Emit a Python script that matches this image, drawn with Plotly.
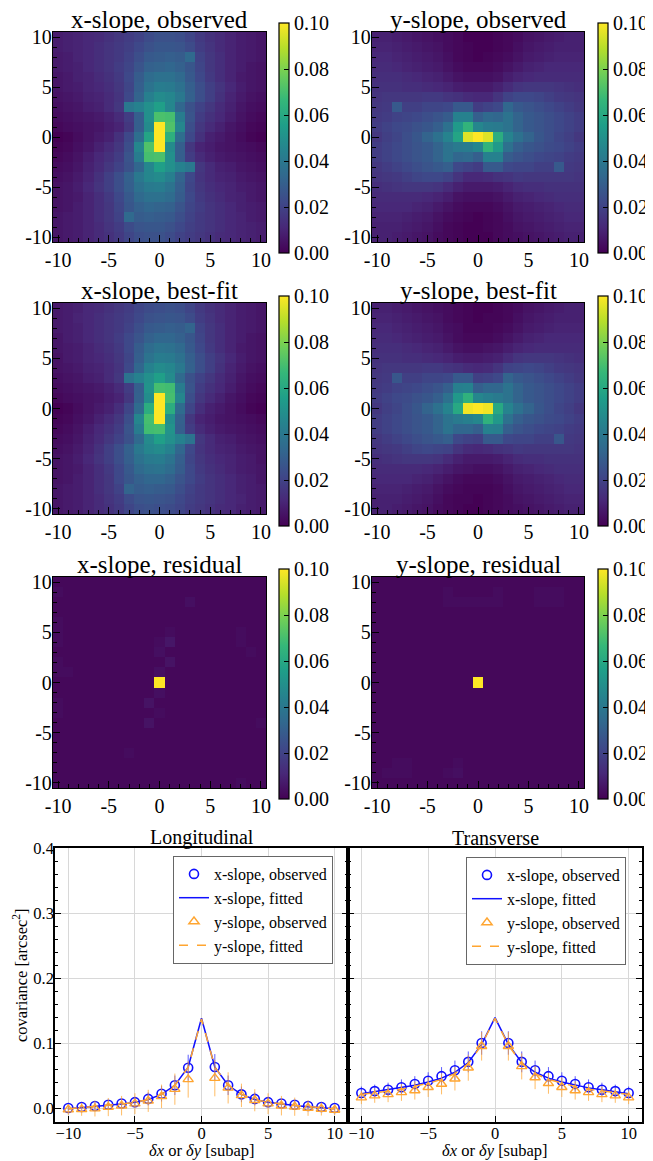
import plotly.graph_objects as go

# the page body has an 8px default margin: the figure is sized/positioned so that
# reference pixel coordinates (in the 653x1161 window) map directly.
OFF = 8
W, H = 653 - OFF, 1161 - OFF
def fx(px): return (px - OFF) / W
def fy(py): return 1 - (py - OFF) / H

FONT = "Liberation Serif"

# ---------------- data ----------------
LAGS = list(range(-10, 11))                 # delta x (columns)
ROW_LAGS = list(range(10, -11, -1))         # delta y (rows, top -> bottom)
CB_TICKS = [0.0, 0.02, 0.04, 0.06, 0.08, 0.10]
HM_TICKS = [-10, -5, 0, 5, 10]
HM_TICKTEXT = ["-10", "-5", "0", "5", "10"]

# covariance maps in units of 1e-3 arcsec^2 (rows: dy = 10 ... -10, cols: dx = -10 ... 10)
X_OBS = [
    [8, 9, 10, 11, 12, 14, 16, 18, 20, 23, 25, 25, 24, 21, 17, 14, 12, 10, 8, 7, 6],
    [8, 9, 10, 11, 13, 15, 17, 19, 22, 25, 27, 27, 26, 23, 18, 15, 12, 10, 8, 7, 6],
    [7, 8, 10, 11, 13, 15, 17, 20, 24, 28, 29, 30, 29, 34, 20, 16, 13, 10, 8, 7, 6],
    [7, 8, 9, 11, 13, 15, 18, 21, 26, 31, 32, 33, 31, 27, 21, 16, 13, 10, 8, 6, 5],
    [6, 7, 9, 10, 12, 14, 17, 22, 29, 35, 37, 37, 34, 28, 22, 17, 13, 10, 7, 6, 5],
    [6, 7, 8, 10, 11, 13, 16, 21, 30, 38, 42, 41, 37, 30, 24, 19, 15, 11, 8, 6, 5],
    [5, 6, 7, 9, 10, 12, 15, 22, 32, 43, 48, 46, 40, 31, 24, 19, 14, 10, 7, 5, 4],
    [4, 5, 6, 8, 9, 12, 16, 40, 44, 50, 56, 46, 33, 25, 20, 16, 12, 9, 6, 4, 3],
    [3, 4, 5, 6, 7, 9, 12, 18, 30, 50, 71, 70, 42, 26, 18, 14, 11, 8, 5, 3, 2],
    [2, 3, 4, 5, 6, 8, 10, 16, 30, 48, 100, 72, 46, 24, 16, 12, 9, 6, 4, 2, 1],
    [0, 1, 3, 5, 7, 9, 14, 22, 36, 58, 140, 63, 36, 22, 14, 9, 7, 5, 3, 1, 0],
    [1, 2, 4, 6, 9, 12, 16, 24, 46, 72, 100, 48, 30, 16, 10, 8, 6, 5, 4, 3, 2],
    [2, 3, 5, 8, 11, 14, 18, 26, 42, 70, 71, 50, 30, 18, 12, 9, 7, 6, 5, 4, 3],
    [3, 4, 6, 9, 12, 16, 20, 25, 33, 46, 56, 50, 44, 40, 16, 12, 9, 8, 6, 5, 4],
    [4, 5, 7, 10, 14, 19, 24, 31, 40, 46, 48, 43, 32, 22, 15, 12, 10, 9, 7, 6, 5],
    [5, 6, 8, 11, 15, 19, 24, 30, 37, 41, 42, 38, 30, 21, 16, 13, 11, 10, 8, 7, 6],
    [5, 6, 7, 10, 13, 17, 22, 28, 34, 37, 37, 35, 29, 22, 17, 14, 12, 10, 9, 7, 6],
    [5, 6, 8, 10, 13, 16, 21, 27, 31, 33, 32, 31, 26, 21, 18, 15, 13, 11, 9, 8, 7],
    [6, 7, 8, 10, 13, 16, 20, 34, 29, 30, 29, 28, 24, 20, 17, 15, 13, 11, 10, 8, 7],
    [6, 7, 8, 10, 12, 15, 18, 23, 26, 27, 27, 25, 22, 19, 17, 15, 13, 11, 10, 9, 8],
    [6, 7, 8, 10, 12, 14, 17, 21, 24, 25, 25, 23, 20, 18, 16, 14, 12, 11, 10, 9, 8],
]
X_FIT = [
    [7, 8, 9, 11, 12, 14, 16, 18, 21, 23, 24, 25, 24, 21, 17, 14, 12, 10, 8, 7, 6],
    [7, 8, 10, 11, 13, 15, 17, 19, 22, 25, 26, 27, 26, 23, 18, 15, 12, 10, 8, 7, 6],
    [7, 8, 9, 11, 13, 15, 17, 20, 24, 28, 29, 30, 29, 32, 20, 16, 13, 10, 8, 7, 6],
    [6, 8, 9, 11, 13, 15, 18, 22, 26, 31, 33, 33, 31, 27, 21, 16, 13, 10, 8, 6, 5],
    [6, 7, 8, 10, 12, 14, 17, 22, 29, 35, 38, 37, 34, 28, 22, 17, 13, 10, 7, 6, 5],
    [5, 7, 8, 10, 11, 13, 16, 21, 30, 38, 42, 41, 37, 30, 24, 19, 15, 11, 8, 6, 5],
    [5, 6, 7, 9, 10, 12, 15, 22, 33, 44, 48, 46, 40, 31, 24, 19, 14, 10, 7, 5, 4],
    [4, 5, 6, 8, 9, 12, 16, 38, 44, 50, 56, 48, 34, 25, 20, 16, 12, 9, 6, 4, 3],
    [3, 4, 5, 6, 7, 9, 12, 18, 30, 51, 70, 69, 42, 26, 18, 14, 11, 8, 5, 3, 2],
    [2, 3, 4, 5, 6, 8, 10, 16, 31, 49, 100, 70, 46, 24, 16, 12, 9, 6, 4, 2, 1],
    [0, 1, 3, 5, 7, 9, 13, 21, 35, 62, 138, 62, 35, 21, 13, 9, 7, 5, 3, 1, 0],
    [1, 2, 4, 6, 9, 12, 16, 24, 46, 70, 100, 49, 31, 16, 10, 8, 6, 5, 4, 3, 2],
    [2, 3, 5, 8, 11, 14, 18, 26, 42, 69, 70, 51, 30, 18, 12, 9, 7, 6, 5, 4, 3],
    [3, 4, 6, 9, 12, 16, 20, 25, 34, 48, 56, 50, 44, 38, 16, 12, 9, 8, 6, 5, 4],
    [4, 5, 7, 10, 14, 19, 24, 31, 40, 46, 48, 44, 33, 22, 15, 12, 10, 9, 7, 6, 5],
    [5, 6, 8, 11, 15, 19, 24, 30, 37, 41, 42, 38, 30, 21, 16, 13, 11, 10, 8, 7, 5],
    [5, 6, 7, 10, 13, 17, 22, 28, 34, 37, 38, 35, 29, 22, 17, 14, 12, 10, 8, 7, 6],
    [5, 6, 8, 10, 13, 16, 22, 27, 31, 33, 33, 31, 26, 22, 18, 15, 13, 11, 9, 8, 6],
    [6, 7, 8, 10, 13, 16, 20, 32, 29, 30, 29, 28, 24, 20, 17, 15, 13, 11, 9, 8, 7],
    [6, 7, 8, 10, 12, 15, 18, 23, 26, 27, 26, 25, 22, 19, 17, 15, 13, 11, 10, 8, 7],
    [6, 7, 8, 10, 12, 14, 17, 21, 24, 25, 24, 23, 21, 18, 16, 14, 12, 11, 9, 8, 7],
]
X_RES = [
    [2, 2, 2, 2, 2, 2, 2, 2, 2, 2, 2, 2, 2, 2, 2, 2, 2, 2, 2, 2, 2],
    [3, 2, 2, 2, 2, 2, 2, 2, 2, 2, 2, 2, 2, 2, 2, 2, 2, 2, 2, 2, 2],
    [2, 2, 2, 2, 2, 2, 2, 2, 2, 2, 2, 2, 2, 4, 2, 2, 2, 2, 2, 2, 2],
    [2, 2, 2, 2, 2, 2, 2, 2, 2, 2, 2, 2, 2, 2, 2, 2, 2, 2, 2, 2, 2],
    [3, 2, 2, 2, 2, 2, 2, 2, 2, 2, 2, 2, 2, 2, 2, 2, 2, 2, 2, 2, 2],
    [3, 2, 2, 2, 2, 2, 2, 2, 2, 2, 2, 3, 2, 2, 2, 2, 2, 2, 3, 2, 2],
    [3, 2, 2, 2, 2, 2, 2, 2, 2, 2, 3, 6, 2, 2, 2, 2, 2, 2, 3, 2, 2],
    [2, 2, 2, 2, 2, 2, 2, 2, 2, 2, 4, 2, 2, 2, 2, 2, 2, 2, 2, 3, 2],
    [3, 2, 2, 2, 2, 2, 2, 2, 2, 2, 2, 5, 2, 2, 2, 2, 2, 2, 2, 2, 2],
    [3, 3, 2, 2, 2, 2, 2, 2, 2, 2, 4, 2, 2, 2, 2, 2, 2, 2, 2, 2, 2],
    [2, 2, 2, 2, 2, 2, 2, 2, 2, 2, 130, 2, 2, 2, 2, 2, 2, 2, 2, 2, 2],
    [2, 2, 2, 2, 2, 2, 2, 2, 2, 2, 4, 2, 2, 2, 2, 2, 2, 2, 2, 2, 2],
    [3, 2, 2, 2, 2, 2, 2, 2, 2, 5, 2, 2, 2, 2, 2, 2, 2, 2, 2, 2, 2],
    [3, 2, 2, 2, 2, 2, 2, 2, 2, 2, 3, 2, 2, 2, 2, 2, 2, 2, 2, 2, 2],
    [2, 2, 2, 2, 2, 2, 2, 2, 2, 5, 2, 2, 2, 2, 2, 2, 2, 2, 2, 2, 3],
    [2, 2, 2, 2, 2, 2, 2, 2, 2, 2, 2, 2, 2, 2, 2, 2, 2, 2, 2, 2, 2],
    [2, 2, 2, 2, 2, 2, 2, 2, 2, 2, 2, 2, 2, 2, 2, 2, 2, 2, 2, 2, 2],
    [2, 2, 2, 2, 2, 2, 2, 3, 2, 2, 2, 2, 2, 2, 2, 2, 2, 2, 2, 2, 2],
    [2, 2, 2, 2, 2, 2, 2, 2, 2, 2, 2, 2, 2, 2, 2, 2, 2, 2, 2, 2, 2],
    [2, 2, 2, 2, 2, 2, 2, 2, 2, 2, 2, 2, 2, 2, 2, 2, 2, 2, 2, 2, 2],
    [2, 2, 2, 2, 2, 2, 2, 2, 2, 2, 2, 2, 2, 2, 2, 2, 2, 2, 3, 2, 2],
]
Y_OBS = [
    [9, 9, 8, 7, 6, 5, 4, 3, 2, 0, 0, 0, 1, 2, 3, 5, 6, 7, 8, 9, 9],
    [10, 10, 9, 8, 7, 6, 5, 3, 2, 1, 0, 0, 1, 2, 4, 6, 7, 8, 9, 9, 9],
    [11, 11, 10, 9, 8, 7, 6, 4, 2, 1, 0, 1, 2, 3, 5, 7, 8, 9, 10, 10, 10],
    [12, 12, 11, 10, 9, 8, 7, 5, 3, 2, 2, 2, 3, 5, 7, 9, 10, 11, 11, 11, 11],
    [13, 13, 13, 12, 11, 10, 9, 7, 5, 4, 4, 4, 5, 8, 10, 11, 12, 12, 12, 12, 12],
    [14, 14, 14, 13, 13, 12, 11, 10, 8, 7, 7, 7, 9, 12, 15, 16, 16, 16, 15, 14, 13],
    [15, 16, 16, 16, 16, 17, 17, 15, 14, 12, 11, 11, 15, 20, 22, 22, 21, 19, 17, 16, 15],
    [16, 17, 28, 19, 19, 21, 21, 22, 28, 28, 18, 20, 22, 33, 28, 26, 24, 22, 20, 18, 16],
    [17, 18, 20, 21, 22, 24, 26, 29, 44, 44, 30, 34, 33, 38, 32, 28, 26, 24, 22, 20, 18],
    [18, 20, 22, 23, 25, 27, 30, 37, 54, 65, 46, 42, 41, 38, 32, 28, 26, 24, 22, 20, 18],
    [16, 19, 21, 24, 27, 32, 37, 45, 58, 95, 140, 95, 62, 45, 37, 32, 27, 24, 21, 19, 16],
    [18, 20, 22, 24, 26, 28, 32, 38, 41, 42, 46, 65, 54, 37, 30, 27, 25, 23, 22, 20, 18],
    [18, 20, 22, 24, 26, 28, 32, 38, 33, 34, 30, 44, 44, 29, 26, 24, 22, 21, 20, 18, 17],
    [16, 18, 20, 22, 24, 26, 28, 30, 22, 20, 18, 28, 28, 22, 21, 21, 19, 19, 28, 17, 16],
    [15, 16, 17, 19, 21, 22, 22, 20, 15, 11, 11, 12, 14, 15, 17, 16, 16, 16, 16, 16, 15],
    [13, 14, 15, 16, 16, 16, 15, 12, 9, 7, 7, 7, 8, 10, 12, 13, 13, 14, 14, 14, 14],
    [12, 12, 12, 12, 12, 11, 10, 8, 5, 4, 4, 4, 5, 7, 9, 10, 11, 12, 13, 13, 13],
    [11, 11, 11, 11, 10, 9, 7, 5, 3, 2, 2, 2, 3, 5, 7, 8, 9, 10, 11, 12, 12],
    [10, 10, 10, 9, 8, 7, 5, 3, 2, 1, 0, 1, 2, 4, 6, 7, 8, 9, 10, 11, 11],
    [9, 9, 9, 8, 7, 6, 4, 2, 1, 0, 0, 1, 2, 3, 5, 6, 7, 8, 9, 10, 10],
    [9, 9, 8, 7, 6, 5, 3, 2, 1, 0, 0, 0, 2, 3, 4, 5, 6, 7, 8, 9, 9],
]
Y_FIT = [
    [9, 9, 8, 7, 6, 5, 4, 3, 2, 1, 0, 0, 1, 2, 3, 5, 6, 7, 8, 9, 9],
    [10, 10, 9, 8, 7, 6, 5, 3, 2, 1, 0, 1, 1, 2, 4, 6, 7, 8, 9, 9, 9],
    [11, 11, 10, 9, 8, 7, 6, 4, 3, 1, 1, 1, 2, 3, 5, 7, 8, 9, 10, 10, 10],
    [12, 12, 11, 10, 9, 8, 7, 5, 3, 2, 2, 2, 3, 5, 7, 9, 10, 11, 11, 11, 11],
    [13, 13, 13, 12, 11, 10, 9, 7, 5, 4, 4, 5, 6, 8, 10, 11, 12, 12, 12, 12, 12],
    [14, 14, 14, 13, 13, 12, 11, 10, 8, 7, 7, 8, 9, 12, 15, 16, 16, 16, 15, 14, 13],
    [15, 16, 16, 16, 16, 17, 17, 15, 14, 12, 11, 12, 15, 20, 21, 22, 21, 19, 17, 16, 15],
    [16, 17, 27, 19, 19, 21, 21, 22, 28, 28, 19, 20, 22, 32, 28, 26, 24, 22, 20, 18, 16],
    [17, 18, 20, 21, 22, 24, 26, 30, 43, 44, 30, 33, 33, 38, 32, 28, 26, 24, 22, 20, 18],
    [18, 20, 22, 23, 25, 27, 30, 37, 53, 64, 46, 43, 41, 38, 32, 28, 26, 24, 22, 20, 18],
    [16, 19, 21, 24, 27, 32, 37, 45, 60, 98, 138, 98, 60, 45, 37, 32, 27, 24, 21, 19, 16],
    [18, 20, 22, 24, 26, 28, 32, 38, 41, 43, 46, 64, 53, 37, 30, 27, 25, 23, 22, 20, 18],
    [18, 20, 22, 24, 26, 28, 32, 38, 33, 33, 30, 44, 43, 30, 26, 24, 22, 21, 20, 18, 17],
    [16, 18, 20, 22, 24, 26, 28, 30, 22, 20, 19, 28, 28, 22, 21, 21, 19, 19, 27, 17, 16],
    [15, 16, 17, 19, 21, 22, 21, 20, 15, 12, 11, 12, 14, 15, 17, 16, 16, 16, 16, 16, 15],
    [13, 14, 15, 16, 16, 16, 15, 12, 9, 7, 7, 7, 8, 10, 12, 13, 13, 14, 14, 14, 14],
    [12, 12, 12, 12, 12, 11, 10, 8, 6, 5, 4, 4, 5, 7, 9, 10, 11, 12, 13, 13, 13],
    [11, 11, 11, 11, 10, 9, 7, 5, 3, 2, 2, 2, 3, 5, 7, 8, 9, 10, 11, 12, 12],
    [10, 10, 10, 9, 8, 7, 5, 3, 2, 1, 1, 1, 2, 4, 6, 7, 8, 9, 10, 11, 11],
    [9, 9, 9, 8, 7, 6, 4, 2, 1, 1, 0, 1, 2, 3, 5, 6, 7, 8, 9, 10, 10],
    [9, 9, 8, 7, 6, 5, 3, 2, 1, 0, 0, 1, 2, 3, 4, 5, 6, 7, 8, 9, 9],
]
Y_RES = [
    [2, 2, 2, 2, 2, 2, 2, 2, 2, 2, 2, 2, 2, 2, 2, 2, 2, 2, 2, 2, 2],
    [2, 2, 2, 2, 2, 2, 2, 3, 2, 2, 2, 2, 3, 2, 2, 2, 3, 3, 3, 2, 2],
    [2, 2, 2, 2, 2, 2, 2, 3, 3, 3, 3, 3, 3, 2, 2, 2, 3, 3, 3, 2, 2],
    [2, 2, 2, 2, 2, 2, 2, 2, 2, 2, 2, 2, 2, 2, 2, 2, 2, 2, 2, 2, 2],
    [2, 2, 2, 2, 2, 2, 2, 2, 2, 2, 2, 2, 2, 2, 2, 2, 2, 2, 2, 2, 2],
    [2, 2, 2, 2, 2, 2, 2, 2, 2, 2, 2, 2, 2, 2, 2, 2, 2, 2, 2, 2, 2],
    [2, 2, 2, 2, 2, 2, 2, 2, 2, 2, 2, 2, 2, 2, 2, 2, 2, 2, 2, 2, 2],
    [2, 2, 2, 2, 2, 2, 2, 2, 2, 2, 2, 2, 2, 2, 2, 2, 2, 2, 2, 2, 2],
    [2, 2, 2, 2, 2, 2, 2, 2, 2, 2, 2, 2, 2, 2, 2, 2, 2, 2, 2, 2, 2],
    [2, 2, 2, 2, 2, 2, 2, 2, 2, 2, 2, 2, 2, 2, 2, 2, 2, 2, 2, 2, 2],
    [2, 2, 2, 2, 2, 2, 2, 2, 2, 2, 125, 2, 2, 2, 2, 2, 2, 2, 2, 2, 2],
    [2, 2, 2, 2, 2, 2, 2, 2, 2, 2, 2, 2, 2, 2, 2, 2, 2, 2, 2, 2, 2],
    [2, 2, 2, 2, 2, 2, 2, 2, 2, 2, 2, 2, 2, 2, 2, 2, 2, 2, 2, 2, 2],
    [2, 2, 2, 2, 2, 2, 2, 2, 2, 2, 2, 2, 2, 2, 2, 2, 2, 2, 2, 2, 2],
    [2, 2, 2, 2, 2, 2, 2, 2, 2, 2, 2, 2, 2, 2, 2, 2, 2, 2, 2, 2, 2],
    [2, 2, 2, 2, 2, 2, 2, 2, 2, 2, 2, 2, 2, 2, 2, 2, 2, 2, 2, 2, 2],
    [2, 2, 2, 2, 2, 2, 2, 2, 2, 2, 2, 2, 2, 2, 2, 2, 2, 2, 2, 2, 2],
    [2, 2, 2, 2, 2, 2, 2, 2, 2, 2, 2, 2, 2, 2, 2, 2, 2, 2, 2, 2, 2],
    [2, 2, 3, 3, 2, 2, 2, 2, 3, 2, 2, 2, 2, 2, 2, 2, 2, 2, 2, 2, 2],
    [2, 3, 3, 3, 2, 2, 2, 3, 4, 2, 2, 2, 2, 2, 2, 2, 2, 2, 2, 2, 2],
    [2, 2, 2, 2, 2, 2, 2, 2, 2, 2, 2, 2, 2, 2, 2, 2, 2, 2, 2, 2, 2],
]

MAP_TITLES = ["x-slope, observed", "y-slope, observed",
              "x-slope, best-fit", "y-slope, best-fit",
              "x-slope, residual", "y-slope, residual"]
MAPS = [X_OBS, Y_OBS, X_FIT, Y_FIT, X_RES, Y_RES]

# 1-D cuts (arcsec^2)
L_X_OBS = [0.000, 0.0015, 0.003, 0.005, 0.007, 0.009, 0.014, 0.022, 0.035, 0.062, 0.33,
           0.063, 0.035, 0.021, 0.014, 0.009, 0.007, 0.005, 0.003, 0.0015, 0.000]
L_X_ERR = [0.004, 0.004, 0.005, 0.006, 0.007, 0.008, 0.010, 0.012, 0.015, 0.020, 0.030,
           0.020, 0.015, 0.012, 0.010, 0.008, 0.007, 0.006, 0.005, 0.004, 0.004]
L_X_FIT = [-0.001, 0.0005, 0.002, 0.004, 0.006, 0.009, 0.013, 0.021, 0.035, 0.063, 0.138,
           0.063, 0.035, 0.021, 0.013, 0.009, 0.006, 0.004, 0.002, 0.0005, -0.001]
L_Y_OBS = [-0.0025, -0.002, -0.001, 0.0015, 0.0036, 0.0067, 0.011, 0.018, 0.029, 0.044, 0.29,
           0.046, 0.031, 0.0195, 0.012, 0.0067, 0.0036, 0.002, 0.000, -0.0015, -0.003]
L_Y_ERR = [0.008, 0.010, 0.012, 0.014, 0.015, 0.016, 0.017, 0.018, 0.024, 0.028, 0.045,
           0.028, 0.024, 0.018, 0.017, 0.016, 0.015, 0.014, 0.012, 0.010, 0.008]
L_Y_FIT = [-0.001, 0.0005, 0.002, 0.004, 0.006, 0.009, 0.013, 0.021, 0.035, 0.063, 0.137,
           0.063, 0.035, 0.021, 0.013, 0.009, 0.006, 0.004, 0.002, 0.0005, -0.001]

T_X_OBS = [0.023, 0.026, 0.028, 0.032, 0.037, 0.042, 0.049, 0.058, 0.071, 0.100, 0.33,
           0.100, 0.071, 0.058, 0.049, 0.042, 0.037, 0.032, 0.028, 0.026, 0.023]
T_X_ERR = [0.010, 0.010, 0.011, 0.012, 0.012, 0.013, 0.014, 0.015, 0.016, 0.018, 0.030,
           0.018, 0.016, 0.015, 0.014, 0.013, 0.012, 0.012, 0.011, 0.010, 0.010]
T_X_FIT = [0.022, 0.025, 0.028, 0.031, 0.035, 0.040, 0.046, 0.055, 0.070, 0.098, 0.139,
           0.098, 0.070, 0.055, 0.046, 0.040, 0.035, 0.031, 0.028, 0.025, 0.022]
T_Y_OBS = [0.016, 0.019, 0.021, 0.024, 0.027, 0.032, 0.037, 0.045, 0.062, 0.095, 0.29,
           0.095, 0.064, 0.047, 0.038, 0.032, 0.027, 0.024, 0.021, 0.019, 0.016]
T_Y_ERR = [0.010, 0.011, 0.012, 0.013, 0.014, 0.015, 0.016, 0.018, 0.020, 0.022, 0.045,
           0.022, 0.020, 0.018, 0.016, 0.015, 0.014, 0.013, 0.012, 0.011, 0.010]
T_Y_FIT = [0.021, 0.023, 0.026, 0.029, 0.033, 0.038, 0.044, 0.053, 0.068, 0.097, 0.138,
           0.097, 0.068, 0.053, 0.044, 0.038, 0.033, 0.029, 0.026, 0.023, 0.021]

# ---------------- layout geometry (reference window pixels) ----------------
HM_COLS = [(53, 266), (372, 584)]
HM_ROWS = [(32, 242), (303, 514), (577, 788)]
CB_X = [279, 598]
CB_TOP = [23, 296, 569]
CB_LEN = 230

fig = go.Figure()
layout = {}
ann = []

BLUE = "#1010ff"
ORANGE = "#ffa530"

for i, (title, grid) in enumerate(zip(MAP_TITLES, MAPS)):
    r, c = divmod(i, 2)
    n = i + 1
    xs = "" if n == 1 else str(n)
    z = [[v / 1000.0 for v in row] for row in grid]
    fig.add_trace(go.Heatmap(
        x=LAGS, y=ROW_LAGS, z=z, colorscale="Viridis", zmin=0, zmax=0.1,
        xaxis="x" + xs, yaxis="y" + xs, hoverinfo="skip",
        colorbar=dict(
            x=fx(CB_X[c]), xanchor="left", y=fy(CB_TOP[r]), yanchor="top",
            len=CB_LEN, lenmode="pixels", thickness=10, thicknessmode="pixels",
            xpad=0, ypad=0, outlinewidth=1.2, outlinecolor="black",
            tickvals=CB_TICKS, tickformat=".2f", ticks="inside", ticklen=5,
            tickcolor="black", tickfont=dict(family=FONT, size=20, color="black"),
        ),
    ))
    x0, x1 = HM_COLS[c]
    y0, y1 = HM_ROWS[r]
    common = dict(range=[-10.5, 10.5], tickvals=HM_TICKS, ticktext=HM_TICKTEXT,
                  ticks="inside", ticklen=7, tickwidth=1.2, tickcolor="black",
                  minor=dict(dtick=1, tick0=0, ticks="inside", ticklen=3.5, tickcolor="black"),
                  showline=True, mirror=True, linecolor="black", linewidth=1.3,
                  showgrid=False, zeroline=False, automargin=False,
                  tickfont=dict(family=FONT, size=20, color="black"))
    layout["xaxis" + xs] = dict(common, domain=[fx(x0), fx(x1)], anchor="y" + xs)
    layout["yaxis" + xs] = dict(common, domain=[fy(y1), fy(y0)], anchor="x" + xs,
                                ticklabelstandoff=-4)
    ann.append(dict(text=title, x=fx((x0 + x1) / 2), y=fy(y0 + 3), xref="paper", yref="paper",
                    xanchor="center", yanchor="bottom", showarrow=False,
                    font=dict(family=FONT, size=25, color="black")))

# ---------------- 1-D panels ----------------
P_COLS = [(55, 348), (348, 642)]
P_ROW = (848, 1122)
panels = [("Longitudinal", L_X_OBS, L_X_ERR, L_X_FIT, L_Y_OBS, L_Y_ERR, L_Y_FIT),
          ("Transverse", T_X_OBS, T_X_ERR, T_X_FIT, T_Y_OBS, T_Y_ERR, T_Y_FIT)]
LEG_POS = [(173, 856), (466, 857)]

for k, (ttl, xo, xe, xf, yo, ye, yf) in enumerate(panels):
    n = 7 + k
    xs = str(n)
    leg = "legend" if k == 0 else "legend2"
    fig.add_trace(go.Scatter(x=LAGS, y=xo, mode="markers", name="x-slope, observed",
                             marker=dict(symbol="circle-open", size=9, color=BLUE, line=dict(width=1.6)),
                             error_y=dict(type="data", array=xe, color="rgba(40,40,255,0.75)", thickness=1, width=0),
                             xaxis="x" + xs, yaxis="y" + xs, legend=leg))
    fig.add_trace(go.Scatter(x=LAGS, y=xf, mode="lines", name="x-slope, fitted",
                             line=dict(color=BLUE, width=1.5), xaxis="x" + xs, yaxis="y" + xs, legend=leg))
    fig.add_trace(go.Scatter(x=LAGS, y=yo, mode="markers", name="y-slope, observed",
                             marker=dict(symbol="triangle-up-open", size=9, color=ORANGE, line=dict(width=1.4)),
                             error_y=dict(type="data", array=ye, color="rgba(255,165,48,0.75)", thickness=1, width=0),
                             xaxis="x" + xs, yaxis="y" + xs, legend=leg))
    fig.add_trace(go.Scatter(x=LAGS, y=yf, mode="lines", name="y-slope, fitted",
                             line=dict(color=ORANGE, width=1.5, dash="dash"),
                             xaxis="x" + xs, yaxis="y" + xs, legend=leg))
    x0, x1 = P_COLS[k]
    y0, y1 = P_ROW
    layout["xaxis" + xs] = dict(
        domain=[fx(x0), fx(x1)], anchor="y" + xs, range=[-11, 11],
        tickvals=[-10, -5, 0, 5, 10], ticks="inside", ticklen=6, tickcolor="black",
        showline=True, mirror=True, linecolor="black", linewidth=1.5,
        showgrid=True, gridcolor="#d8d8d8", gridwidth=1, zeroline=False, automargin=False,
        ticklabelstandoff=-5,
        tickfont=dict(family=FONT, size=16.5, color="black"))
    layout["yaxis" + xs] = dict(
        domain=[fy(y1), fy(y0)], anchor="x" + xs, range=[-0.0215, 0.4],
        dtick=0.1, tick0=0, tickformat=".1f", ticks="inside", ticklen=6, tickcolor="black",
        minor=dict(dtick=0.02, tick0=0, ticks="inside", ticklen=3, tickcolor="black"),
        showline=True, mirror="ticks", linecolor="black", linewidth=1.5,
        showgrid=True, gridcolor="#d8d8d8", gridwidth=1, zeroline=False, automargin=False,
        showticklabels=(k == 0), ticklabelstandoff=-4,
        tickfont=dict(family=FONT, size=16.5, color="black"))
    ann.append(dict(text=ttl, x=fx((x0 + x1) / 2), y=fy(y0 + 3), xref="paper", yref="paper",
                    xanchor="center", yanchor="bottom", showarrow=False,
                    font=dict(family=FONT, size=20, color="black")))
    ann.append(dict(text="<i>δx</i> or <i>δy</i> [subap]", x=fx((x0 + x1) / 2), y=fy(1150),
                    xref="paper", yref="paper", xanchor="center", yanchor="middle", showarrow=False,
                    font=dict(family=FONT, size=16.5, color="black")))
    lx, ly = LEG_POS[k]
    layout[leg] = dict(x=fx(lx), y=fy(ly), xanchor="left", yanchor="top",
                       bgcolor="white", bordercolor="#666666", borderwidth=1,
                       font=dict(family=FONT, size=16, color="black"),
                       tracegroupgap=0, itemwidth=30, traceorder="normal")

ann.append(dict(text="covariance [arcsec<sup>2</sup>]", x=fx(20), y=fy(975), xref="paper", yref="paper",
                xanchor="center", yanchor="middle", textangle=-90, showarrow=False,
                font=dict(family=FONT, size=16.5, color="black")))

fig.update_layout(
    width=W, height=H, margin=dict(l=0, r=0, t=0, b=0, autoexpand=False),
    paper_bgcolor="white", plot_bgcolor="white",
    font=dict(family=FONT, size=16, color="black"),
    showlegend=True, annotations=ann, **layout)

fig.write_html("out.html")
